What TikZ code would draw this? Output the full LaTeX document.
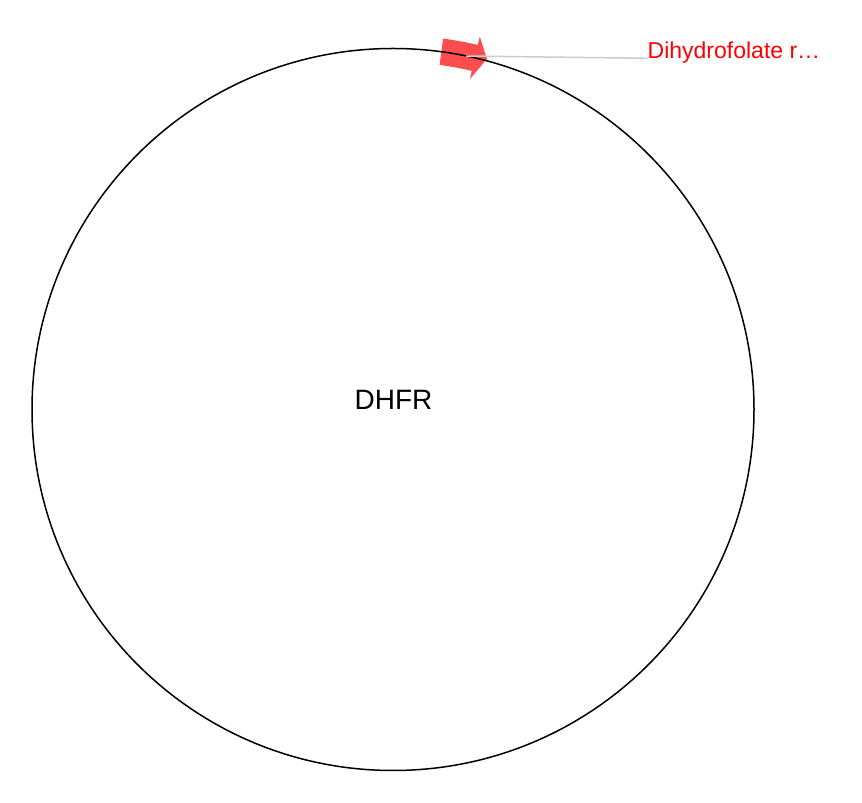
\documentclass[tikz,border=0pt]{standalone}
\usepackage{fontspec}
\setmainfont{Liberation Sans}
\usetikzlibrary{positioning}

\tikzset{
  backbone/.style={draw=black, line width=1.5pt},
  feature/.style={fill=red, fill opacity=0.7, draw=none},
  leader/.style={draw=black!20, line width=1.5pt},
  featlabel/.style={text=red, font=\fontsize{23pt}{25pt}\selectfont, inner sep=0pt, anchor=base west}
}

\begin{document}
\begin{tikzpicture}[x=1pt, y=1pt]
            \useasboundingbox (0, 0) rectangle (862, 803);
            \coordinate (c) at (393, 393.5);

            % feature arrow on the backbone
            \begin{scope}[shift={(c)}]
                \path[feature] (82.3:374.3pt) arc[start angle=82.3, end angle=76.9, radius=374.3pt]
                    -- (76.9:382.8pt) -- (75.0:363pt) -- (76.9:339.2pt) -- (76.9:347.7pt)
                    arc[start angle=76.9, end angle=82.3, radius=347.7pt] -- cycle;
                \coordinate (dhfrmid) at (78.3:361pt);
            \end{scope}

            \draw[backbone] (c) circle[radius=361pt];
            \node[font=\fontsize{28pt}{30pt}\selectfont, inner sep=0pt] (name) at (393.5, 402.7) {DHFR};

            \node[featlabel] (dhfrlabel) at (647.5, 744.7) {Dihydrofolate r…};
            \draw[leader] (dhfrmid) -- (dhfrlabel.base west);
        \end{tikzpicture}
\end{document}
